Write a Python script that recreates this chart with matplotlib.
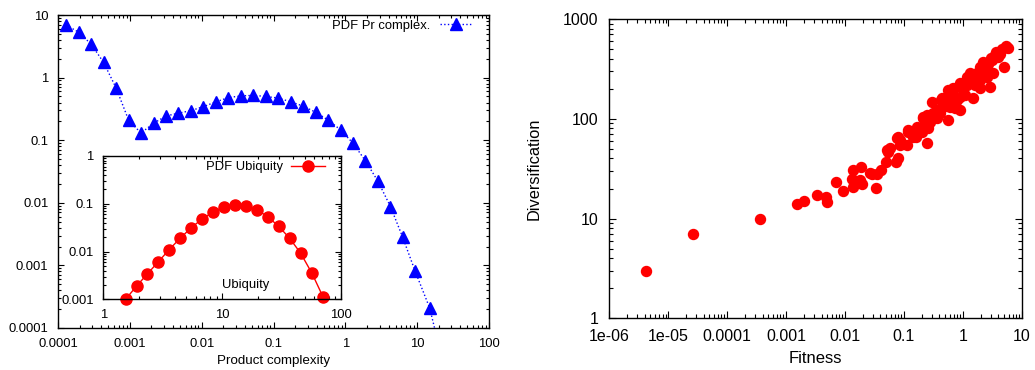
import matplotlib
matplotlib.use('Agg')
from matplotlib import pyplot as plt
from matplotlib.ticker import NullFormatter

plt.rcParams['font.family'] = ['Liberation Sans', 'DejaVu Sans']

# product complexity PDF (main left panel)
complexity = [1.30e-4, 1.95e-4, 2.90e-4, 4.30e-4, 6.45e-4, 9.6e-4, 1.43e-3,
              2.15e-3, 3.2e-3, 4.75e-3, 7.1e-3, 0.0106, 0.0158, 0.0236,
              0.0352, 0.0525, 0.078, 0.117, 0.174, 0.26, 0.385, 0.575, 0.86,
              1.28, 1.9, 2.85, 4.25, 6.3, 9.4, 14.9, 22.0]
pdf_complexity = [6.9, 5.3, 3.4, 1.76, 0.68, 0.21, 0.13, 0.187, 0.244, 0.27,
                  0.297, 0.344, 0.41, 0.48, 0.51, 0.52, 0.50, 0.47, 0.41,
                  0.35, 0.28, 0.21, 0.146, 0.0895, 0.047, 0.022, 0.0087,
                  0.0028, 0.0008, 0.00021, 3.4e-5]

# ubiquity PDF (inset)
ubiquity = [1.54, 1.91, 2.35, 2.89, 3.57, 4.43, 5.48, 6.78, 8.40, 10.3, 12.8,
            15.8, 19.7, 24.4, 30.0, 37.2, 46.0, 57.3, 71.0]
pdf_ubiquity = [0.001, 0.0019, 0.0034, 0.0060, 0.0108, 0.0189, 0.0311,
                0.048, 0.067, 0.0857, 0.093, 0.0885, 0.0753, 0.053, 0.0338,
                0.0189, 0.0092, 0.0035, 0.00112]

# fitness vs diversification (right panel)
fitness = [4.2e-6, 2.67e-5, 3.66e-4, 1.53e-3, 2.05e-3, 3.4e-3, 4.77e-3, 4.9e-3,
           7.05e-3, 9.4e-3, 0.0130, 0.0135, 0.0139, 0.0180, 0.0185, 0.0193,
           0.0267, 0.0284, 0.0337, 0.035, 0.0405, 0.0498, 0.0525, 0.0582,
           0.054, 0.0736, 0.0807, 0.0776, 0.0861, 0.0861, 0.112, 0.119,
           0.161, 0.165, 0.201, 0.214, 0.244, 0.0807, 0.145, 0.119, 0.188,
           0.214, 0.244, 0.278, 0.317, 0.386, 0.297, 0.439, 0.500, 0.469,
           0.570, 0.608, 0.899, 0.570, 0.608, 0.692, 0.789, 0.899, 1.02,
           1.09, 1.24, 1.33, 1.51, 1.61, 1.72, 1.96, 1.96, 1.96, 2.24, 2.55,
           2.55, 2.90, 2.98, 3.30, 3.67, 4.02, 5.02, 5.43, 5.94,
           0.338, 0.36, 0.42, 0.52, 0.65, 0.74, 0.88, 1.17, 1.42, 1.85, 2.39,
           2.7, 3.1, 3.5, 4.3, 4.6, 0.17, 0.23, 0.26, 0.36, 0.41, 0.69, 1.17,
           1.5, 2.24]
diversification = [3, 7, 10, 14, 15, 17.2, 16.3, 14.8, 23, 19, 24.7, 30.7,
                   20.9, 24.3, 32.6, 22, 28.5, 27.9, 20.1, 28, 31, 37, 48.6,
                   50.5, 46, 37, 40, 64, 55, 61, 55, 74, 66, 83, 74, 105, 57,
                   66, 66, 77, 77, 101, 109, 93.5, 113, 122, 148, 160, 148,
                   137, 97, 132, 122, 194, 167, 202, 154, 226, 194, 173, 245,
                   285, 160, 218, 285, 333, 245, 202, 373, 308, 264, 210, 403,
                   285, 471, 419, 333, 536, 516,
                   109, 122, 154, 134, 187, 127, 167, 218, 245, 297, 345, 358,
                   388, 436, 450, 496, 73, 91, 80, 101, 113, 167, 264, 275,
                   297]

main_xticks = [1e-4, 1e-3, 1e-2, 1e-1, 1, 10, 100]
main_xlabels = ['0.0001', '0.001', '0.01', '0.1', '1', '10', '100']
main_yticks = [1e-4, 1e-3, 1e-2, 1e-1, 1, 10]
main_ylabels = ['0.0001', '0.001', '0.01', '0.1', '1', '10']
inset_xticks = [1, 10, 100]
inset_xlabels = ['1', '10', '100']
inset_yticks = [1e-3, 1e-2, 1e-1, 1]
inset_ylabels = ['0.001', '0.01', '0.1', '1']
right_xticks = [1e-6, 1e-5, 1e-4, 1e-3, 1e-2, 1e-1, 1, 10]
right_xlabels = ['1e-06', '1e-05', '0.0001', '0.001', '0.01', '0.1', '1', '10']
right_yticks = [1, 10, 100, 1000]
right_ylabels = ['1', '10', '100', '1000']

W, H = 1035, 370


def style_axes(ax, fontsize, major=4.5, minor=2.5, pad=6):
    ax.set_xscale('log')
    ax.set_yscale('log')
    for side in ax.spines.values():
        side.set_linewidth(1.0)
    ax.tick_params(which='both', direction='in', top=True, right=True,
                   labelsize=fontsize, pad=pad, width=0.8)
    ax.tick_params(which='major', length=major)
    ax.tick_params(which='minor', length=minor)
    ax.xaxis.set_minor_formatter(NullFormatter())
    ax.yaxis.set_minor_formatter(NullFormatter())


fig = plt.figure(figsize=(W / 100, H / 100), dpi=100)

# main left panel
ax = fig.add_axes([58 / W, (H - 328) / H, 431 / W, 313 / H])
style_axes(ax, 9.4, pad=7)
ax.plot(complexity, pdf_complexity, color='#0000ff', ls=':', lw=1.0,
        marker='^', ms=9, label='PDF Pr complex.')
ax.set_xlim(1e-4, 100)
ax.set_ylim(1e-4, 10)
ax.set_xticks(main_xticks, main_xlabels)
ax.set_yticks(main_yticks, main_ylabels)
ax.set_xlabel('Product complexity', fontsize=9.6, labelpad=4)
ax.legend(loc='upper right', bbox_to_anchor=(0.961, 0.985), frameon=False,
          markerfirst=False, fontsize=9.4, borderpad=0, borderaxespad=0,
          handlelength=2.5, handletextpad=0.7)

# inset
ins = fig.add_axes([103.3 / W, (H - 299.3) / H, 237.4 / W, 143.3 / H])
ins.set_facecolor('white')
style_axes(ins, 9.4, major=4, minor=2.2, pad=7)
ins.plot(ubiquity, pdf_ubiquity, color='#ff0000', ls='-', lw=1.0,
         marker='o', ms=8, label='PDF Ubiquity', clip_on=False)
ins.set_xlim(1, 100)
ins.set_ylim(1e-3, 1)
ins.set_xticks(inset_xticks, inset_xlabels)
ins.set_yticks(inset_yticks, inset_ylabels)
ins.text(0.6, 0.1, 'Ubiquity', transform=ins.transAxes, fontsize=9.4,
         ha='center', va='center')
ins.legend(loc='upper right', bbox_to_anchor=(0.934, 0.965), frameon=False,
           markerfirst=False, fontsize=9.4, borderpad=0, borderaxespad=0,
           handlelength=2.6, handletextpad=0.65)

# right panel
ax2 = fig.add_axes([609.3 / W, (H - 318.3) / H, 412.4 / W, 299.3 / H])
style_axes(ax2, 11.5, major=5, minor=3, pad=8)
ax2.plot(fitness, diversification, ls='none', marker='o', ms=7.2,
         color='#ff0000')
ax2.set_xlim(1e-6, 10)
ax2.set_ylim(1, 1000)
ax2.set_xticks(right_xticks, right_xlabels)
ax2.set_yticks(right_yticks, right_ylabels)
ax2.set_xlabel('Fitness', fontsize=12, labelpad=5)
ax2.set_ylabel('Diversification', fontsize=11.8, labelpad=15)

fig.savefig('out.png', dpi=100)
